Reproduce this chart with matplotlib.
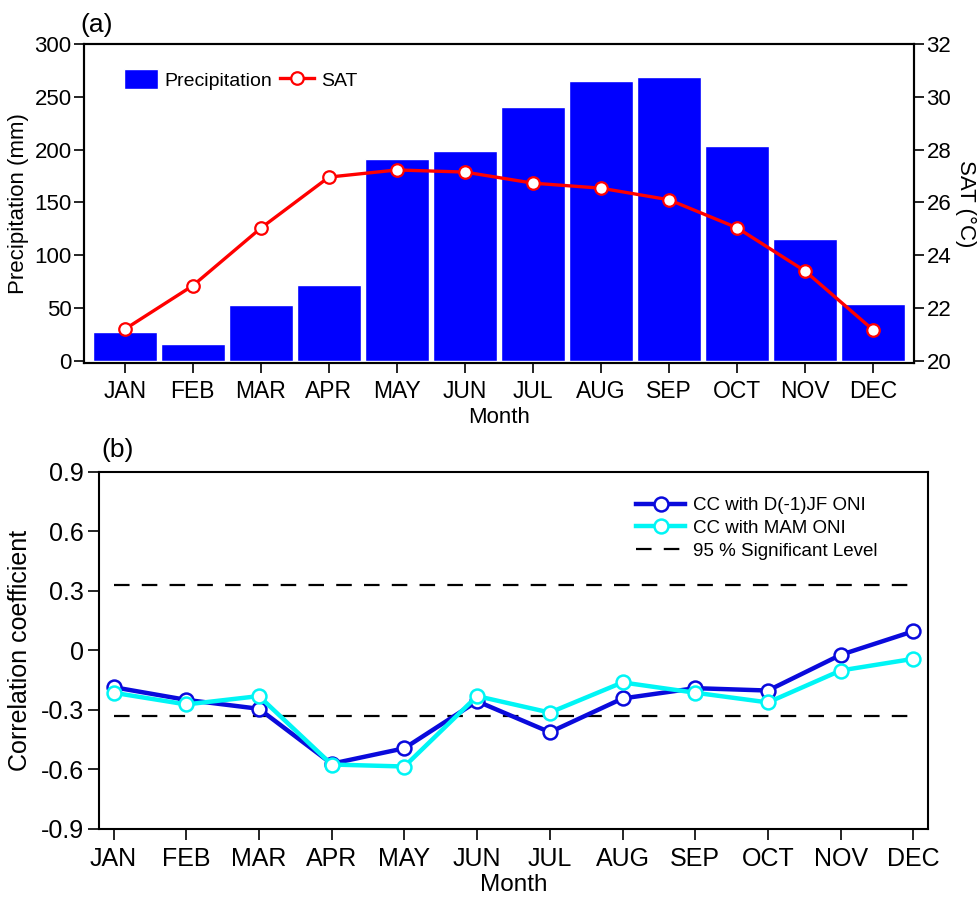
import numpy as np
import matplotlib
matplotlib.use('Agg')
import matplotlib.pyplot as plt

plt.rcParams['font.family'] = ['Liberation Sans', 'DejaVu Sans']
plt.rcParams['axes.unicode_minus'] = False

months = ['JAN', 'FEB', 'MAR', 'APR', 'MAY', 'JUN', 'JUL', 'AUG', 'SEP', 'OCT', 'NOV', 'DEC']

# (a) climatology
precip = [27, 16, 53, 72, 191, 199, 240, 265, 269, 203, 115, 54]
sat = [21.2, 22.85, 25.03, 26.96, 27.23, 27.15, 26.73, 26.54, 26.1, 25.04, 23.4, 21.17]

# (b) correlation coefficients
cc_djf = [-0.185, -0.249, -0.294, -0.571, -0.493, -0.256, -0.412, -0.242, -0.19, -0.202, -0.022, 0.097]
cc_mam = [-0.213, -0.272, -0.23, -0.575, -0.585, -0.23, -0.313, -0.161, -0.213, -0.262, -0.101, -0.042]
sig_level = 0.33

x = np.arange(len(months))

fig = plt.figure(figsize=(9.77, 9.0), dpi=100)

# ---- panel (a)
ax1 = fig.add_axes([0.0860, 0.5967, 0.8495, 0.3544])
bars = ax1.bar(x, precip, width=0.95, color='#0000FF', edgecolor='white', linewidth=1.0,
               label='Precipitation')
ax1.set_xlim(-0.6, 11.6)
ax1.set_ylim(-2, 300)
ax1.set_yticks(np.arange(0, 301, 50))
ax1.set_xticks(x)
ax1.set_xticklabels(months)
ax1.set_ylabel('Precipitation (mm)', fontsize=16, labelpad=4)
ax1.set_xlabel('Month', fontsize=16, labelpad=3)
ax1.tick_params(axis='x', labelsize=16.5, length=7, width=1.2, direction='out', pad=5)
ax1.tick_params(axis='y', labelsize=16, length=7, width=1.2, direction='out', pad=2)

ax2 = ax1.twinx()
line_sat, = ax2.plot(x, sat, color='#FF0000', lw=2.4, marker='o', ms=9,
                     mfc='white', mec='#FF0000', mew=1.6, label='SAT')
ax2.set_ylim(20 - 2 * 12 / 302, 32)
ax2.set_yticks(np.arange(20, 33, 2))
ax2.set_ylabel('SAT (°C)', fontsize=16, rotation=270, ha='center', va='center')
ax2.yaxis.set_label_coords(1.062, 0.5)
ax2.tick_params(axis='y', labelsize=16, length=7, width=1.2, direction='out', pad=2)

for ax in (ax1, ax2):
    for s in ax.spines.values():
        s.set_linewidth(1.5)

ax1.legend([bars, line_sat], ['Precipitation', 'SAT'], ncol=2, frameon=False,
           fontsize=14, loc='upper left', bbox_to_anchor=(0.027, 0.975),
           handlelength=1.75, handleheight=1.2, handletextpad=0.35, columnspacing=0.4)
fig.text(0.082, 0.972, '(a)', fontsize=19, ha='left', va='center')

# ---- panel (b)
ax3 = fig.add_axes([0.1013, 0.0789, 0.8485, 0.3967])
ax3.hlines([sig_level, -sig_level], 0, 11, colors='black', linestyles=(0, (7, 5.5)),
           lw=1.6, label='95 % Significant Level')
ax3.plot(x, cc_djf, color='#0A0ADC', lw=3.2, marker='o', ms=10, mfc='white',
         mec='#0A0ADC', mew=1.8, label='CC with D(-1)JF ONI', zorder=3)
ax3.plot(x, cc_mam, color='#00F5F5', lw=3.2, marker='o', ms=10, mfc='white',
         mec='#00F5F5', mew=1.8, label='CC with MAM ONI', zorder=4)
ax3.set_xlim(-0.2, 11.2)
ax3.set_ylim(-0.9, 0.9)
ax3.set_yticks([-0.9, -0.6, -0.3, 0, 0.3, 0.6, 0.9])
ax3.set_yticklabels(['-0.9', '-0.6', '-0.3', '0', '0.3', '0.6', '0.9'])
ax3.set_xticks(x)
ax3.set_xticklabels(months)
ax3.set_ylabel('Correlation coefficient', fontsize=18, labelpad=6)
ax3.set_xlabel('Month', fontsize=17.5, labelpad=2)
ax3.tick_params(axis='x', labelsize=18, length=8, width=1.2, direction='out', pad=5)
ax3.tick_params(axis='y', labelsize=18, length=8, width=1.2, direction='out', pad=3)
for s in ax3.spines.values():
    s.set_linewidth(1.5)

h, l = ax3.get_legend_handles_labels()
order = [1, 2, 0]
ax3.legend([h[i] for i in order], [l[i] for i in order], frameon=False, fontsize=13.5,
           loc='upper left', bbox_to_anchor=(0.628, 0.977), handlelength=2.6,
           handletextpad=0.4, labelspacing=0.3)
fig.text(0.104, 0.5, '(b)', fontsize=19, ha='left', va='center')

fig.savefig('out.png', dpi=100)
